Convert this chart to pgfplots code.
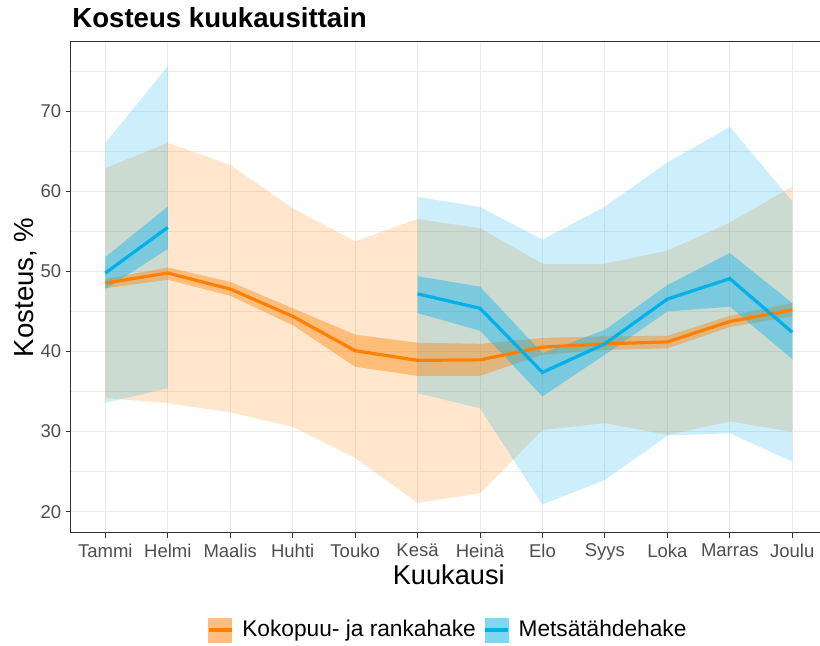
\documentclass[border=0pt]{standalone}
\usepackage{pgfplots}
\pgfplotsset{compat=1.18}
\usepgfplotslibrary{fillbetween}
\usepackage{pgfplotstable}
\usepackage{fontspec}
\setmainfont{Liberation Sans}
\definecolor{orangeC}{RGB}{255,128,0}
\definecolor{blueC}{RGB}{0,176,235}
\definecolor{orangeKey}{RGB}{255,190,128}
\definecolor{blueKey}{RGB}{125,216,242}
\definecolor{gridC}{RGB}{235,235,235}
\definecolor{borderC}{RGB}{51,51,51}
\definecolor{tickC}{RGB}{77,77,77}

\pgfplotstableread{
x olo ilo mid ihi ohi
0 34.2 47.9 48.55 49.05 62.9
1 33.55 48.96 49.8 50.5 66.05
2 32.4 46.96 47.8 48.7 63.3
3 30.6 43.3 44.4 45.4 57.9
4 26.7 38.1 40.1 42.1 53.75
5 21.1 36.96 38.9 41.1 56.55
6 22.3 36.96 38.96 40.96 55.4
7 30.2 39.6 40.55 41.7 50.96
8 31.05 40.2 40.96 41.9 50.96
9 29.6 40.4 41.2 41.96 52.6
10 31.25 43.05 43.75 44.46 56.1
11 30.0 44.4 45.2 46.05 60.6
}\orangedata

\pgfplotstableread{
x olo ilo mid ihi ohi
0 33.6 47.8 49.8 51.8 66.05
1 35.4 52.8 55.5 58.1 75.6
}\blueA

\pgfplotstableread{
x olo ilo mid ihi ohi
5 34.8 44.8 47.2 49.4 59.3
6 32.9 42.6 45.4 48.1 58.05
7 20.9 34.4 37.4 39.8 53.96
8 23.96 39.6 40.96 42.7 58.1
9 29.5 45.0 46.55 48.3 63.6
10 29.8 45.6 49.1 52.3 68.05
11 26.25 39.05 42.4 46.05 58.75
}\blueB

\begin{document}
\begin{tikzpicture}
\begin{axis}[
  name=main,
  at={(0,0)}, anchor=south west,
  scale only axis,
  width=377.8pt, height=245.65pt,
  xmin=-0.55, xmax=11.55,
  ymin=17.34, ymax=78.69,
  xtick={0,...,11},
  xticklabels={Tammi,Helmi,Maalis,Huhti,Touko,Kesä,Heinä,Elo,Syys,Loka,Marras,Joulu},
  ytick={20,30,40,50,60,70},
  minor ytick={25,35,45,55,65,75},
  grid=both,
  major grid style={gridC, line width=0.5pt},
  minor grid style={gridC, line width=0.3pt},
  minor tick length=0pt,
  tick align=outside,
  major tick length=2.3pt,
  tick style={borderC, line width=0.5pt},
  axis line style={borderC, line width=0.5pt},
  xtick pos=bottom, ytick pos=left,
  /pgf/number format/assume math mode=true,
  ticklabel style={font=\fontsize{9.25}{11}\selectfont, text=tickC},
  xticklabel style={anchor=north, inner sep=0pt, yshift=-2.9pt},
  yticklabel style={anchor=east, inner sep=0pt, xshift=-2.4pt},
  xlabel={Kuukausi},
  ylabel={Kosteus, \%},
  xlabel style={font=\fontsize{13.6}{16}\selectfont, at={(axis description cs:0.5,-0.1058)}, anchor=base, inner sep=0pt},
  ylabel style={font=\fontsize{13.8}{16}\selectfont, at={(axis description cs:-0.0499,0.5)}, anchor=base, inner sep=0pt, rotate=0},
  legend columns=2,
  legend style={at={(axis description cs:0.5,-0.1974)}, anchor=center, draw=none, fill=none,
    font=\fontsize{11.35}{13}\selectfont,
    /tikz/every even column/.append style={column sep=1.8pt},
    /tikz/every odd column/.append style={column sep=2.5pt}},
  legend cell align=left,
  clip=true,
]
% outer ribbons
\addplot[draw=none, name path=oOhi, forget plot] table[x=x, y=ohi]{\orangedata};
\addplot[draw=none, name path=oOlo, forget plot] table[x=x, y=olo]{\orangedata};
\addplot[fill=orangeC, fill opacity=0.2, draw=none, forget plot] fill between[of=oOhi and oOlo];
\addplot[draw=none, name path=aOhi, forget plot] table[x=x, y=ohi]{\blueA};
\addplot[draw=none, name path=aOlo, forget plot] table[x=x, y=olo]{\blueA};
\addplot[fill=blueC, fill opacity=0.2, draw=none, forget plot] fill between[of=aOhi and aOlo];
\addplot[draw=none, name path=bOhi, forget plot] table[x=x, y=ohi]{\blueB};
\addplot[draw=none, name path=bOlo, forget plot] table[x=x, y=olo]{\blueB};
\addplot[fill=blueC, fill opacity=0.2, draw=none, forget plot] fill between[of=bOhi and bOlo];
% inner ribbons
\addplot[draw=none, name path=oIhi, forget plot] table[x=x, y=ihi]{\orangedata};
\addplot[draw=none, name path=oIlo, forget plot] table[x=x, y=ilo]{\orangedata};
\addplot[fill=orangeC, fill opacity=0.4, draw=none, forget plot] fill between[of=oIhi and oIlo];
\addplot[draw=none, name path=aIhi, forget plot] table[x=x, y=ihi]{\blueA};
\addplot[draw=none, name path=aIlo, forget plot] table[x=x, y=ilo]{\blueA};
\addplot[fill=blueC, fill opacity=0.4, draw=none, forget plot] fill between[of=aIhi and aIlo];
\addplot[draw=none, name path=bIhi, forget plot] table[x=x, y=ihi]{\blueB};
\addplot[draw=none, name path=bIlo, forget plot] table[x=x, y=ilo]{\blueB};
\addplot[fill=blueC, fill opacity=0.4, draw=none, forget plot] fill between[of=bIhi and bIlo];
% lines
\addplot[orangeC, line width=1.6pt, forget plot] table[x=x, y=mid]{\orangedata};
\addplot[blueC, line width=1.6pt, forget plot] table[x=x, y=mid]{\blueA};
\addplot[blueC, line width=1.6pt, forget plot] table[x=x, y=mid]{\blueB};
% legend
\addlegendimage{legend image code/.code={\fill[orangeKey] (0pt,-6pt) rectangle (11.5pt,6pt); \draw[orangeC, line width=1.6pt] (0pt,0pt) -- (11.5pt,0pt);}}
\addlegendentry{Kokopuu- ja rankahake}
\addlegendimage{legend image code/.code={\fill[blueKey] (0pt,-6pt) rectangle (11.5pt,6pt); \draw[blueC, line width=1.6pt] (0pt,0pt) -- (11.5pt,0pt);}}
\addlegendentry{Metsätähdehake}
\end{axis}
\node[anchor=base west, inner sep=0pt, font=\fontsize{13.8}{16}\selectfont\bfseries] at (0.5pt,252.85pt) {Kosteus kuukausittain};
\pgfresetboundingbox
\path[use as bounding box] (-35.5pt,-56.5pt) rectangle (374.5pt,266.5pt);
\end{tikzpicture}
\end{document}
